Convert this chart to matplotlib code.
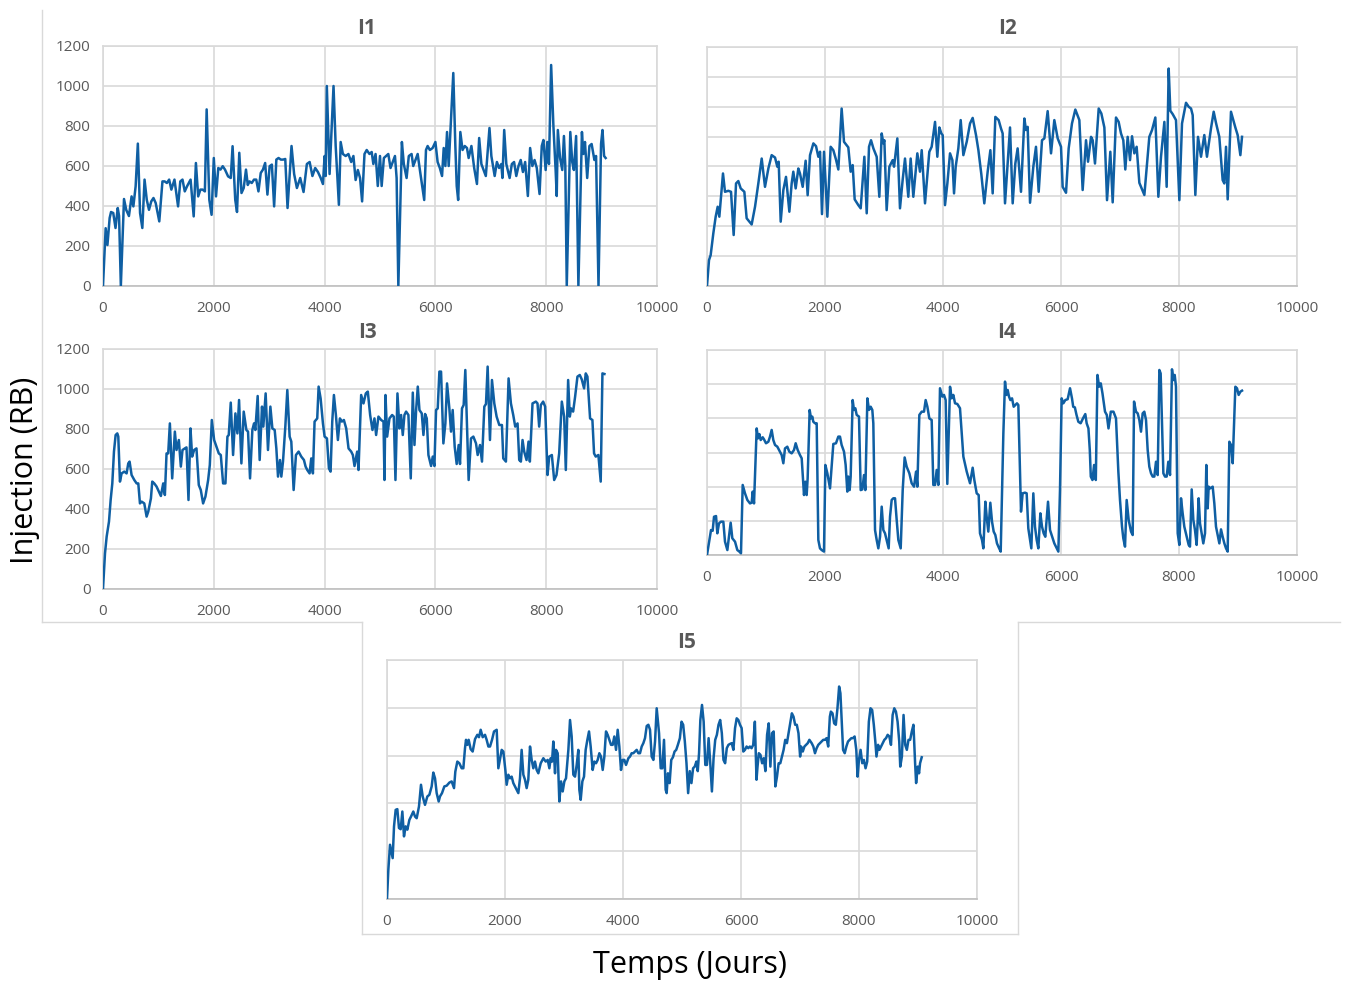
import numpy as np
import matplotlib
matplotlib.use("Agg")
import matplotlib.pyplot as plt
from matplotlib.lines import Line2D

plt.rcParams["font.family"] = ["Open Sans", "DejaVu Sans"]

# (day, injection RB)
I1 = [(0, 0), (48, 289), (80, 205), (120, 340), (145, 370), (185, 365), (226, 290), (266, 390), (290, 350), (322, 0),
      (379, 435), (420, 380), (468, 350), (516, 448), (548, 398), (589, 498), (629, 712), (669, 365), (710, 290),
      (750, 532), (790, 431), (830, 381), (871, 423), (911, 440), (951, 415), (1016, 323), (1073, 523), (1113, 523),
      (1153, 515), (1194, 532), (1234, 482), (1290, 532), (1355, 398), (1395, 523), (1435, 532), (1476, 473),
      (1516, 498), (1581, 532), (1637, 348), (1677, 615), (1718, 448), (1758, 482), (1798, 482), (1839, 473),
      (1871, 883), (1919, 431), (1960, 356), (2000, 640), (2040, 448), (2081, 590), (2121, 582), (2161, 599),
      (2202, 582), (2258, 548), (2306, 540), (2339, 699), (2387, 431), (2419, 370), (2460, 666), (2500, 465),
      (2540, 490), (2581, 582), (2613, 505), (2645, 523), (2685, 515), (2726, 532), (2766, 532), (2806, 473),
      (2847, 565), (2887, 582), (2927, 615), (2968, 457), (3008, 599), (3048, 607), (3089, 398), (3129, 632),
      (3169, 640), (3210, 632), (3250, 632), (3290, 635), (3331, 390), (3403, 700), (3450, 560), (3500, 490),
      (3560, 540), (3620, 470), (3680, 610), (3730, 620), (3780, 550), (3830, 590), (3880, 570), (3930, 540),
      (3970, 510), (4000, 650), (4020, 550), (4040, 1000), (4090, 560), (4161, 1000), (4200, 700), (4258, 406),
      (4290, 720), (4330, 660), (4380, 650), (4430, 660), (4480, 620), (4520, 650), (4560, 530), (4600, 580),
      (4640, 540), (4677, 423), (4720, 660), (4760, 680), (4810, 660), (4850, 670), (4880, 610), (4920, 660),
      (4960, 500), (5000, 650), (5030, 500), (5070, 640), (5110, 650), (5150, 660), (5190, 590), (5230, 620),
      (5270, 650), (5300, 540), (5331, 0), (5395, 720), (5430, 610), (5480, 540), (5520, 650), (5570, 660),
      (5600, 600), (5640, 630), (5680, 660), (5720, 580), (5798, 430), (5830, 680), (5860, 700), (5900, 680),
      (5950, 690), (6000, 720), (6040, 620), (6080, 590), (6120, 550), (6150, 690), (6180, 600), (6210, 770),
      (6240, 600), (6323, 1065), (6360, 700), (6385, 500), (6411, 430), (6450, 770), (6490, 680), (6530, 700),
      (6570, 690), (6600, 640), (6650, 700), (6700, 590), (6750, 510), (6790, 740), (6830, 610), (6870, 580),
      (6910, 550), (6950, 700), (6976, 790), (7010, 650), (7070, 550), (7110, 620), (7150, 590), (7190, 610),
      (7210, 540), (7242, 780), (7280, 610), (7340, 540), (7380, 610), (7420, 620), (7460, 550), (7500, 600),
      (7540, 630), (7580, 570), (7620, 620), (7669, 450), (7710, 690), (7750, 600), (7790, 630), (7830, 590),
      (7880, 460), (7920, 700), (7950, 730), (7990, 580), (8020, 720), (8050, 610), (8089, 1105), (8130, 800),
      (8170, 580), (8190, 450), (8210, 780), (8250, 640), (8290, 580), (8320, 750), (8345, 600), (8371, 0),
      (8435, 770), (8470, 620), (8500, 580), (8540, 750), (8581, 0), (8645, 770), (8670, 660), (8700, 720),
      (8740, 540), (8780, 700), (8820, 710), (8870, 630), (8900, 650), (8944, 0), (8990, 710), (9016, 780),
      (9045, 650), (9073, 640)]

I2 = [(0, 0), (34, 130), (62, 155), (107, 264), (147, 348), (181, 398), (209, 348), (237, 448), (271, 565), (305, 473),
      (362, 478), (407, 473), (452, 256), (492, 515), (531, 527), (571, 490), (633, 473), (672, 340), (718, 323),
      (757, 309), (814, 398), (870, 515), (927, 640), (983, 498), (1040, 590), (1096, 657), (1153, 645), (1192, 599),
      (1215, 624), (1249, 323), (1294, 482), (1339, 548), (1396, 373), (1435, 515), (1463, 574), (1503, 490),
      (1548, 590), (1576, 565), (1622, 498), (1672, 629), (1706, 456), (1746, 657), (1803, 716), (1848, 702),
      (1887, 649), (1916, 674), (1949, 361), (1983, 674), (2040, 348), (2096, 699), (2141, 682), (2186, 635),
      (2226, 585), (2282, 891), (2322, 724), (2395, 696), (2435, 574), (2469, 607), (2503, 435), (2565, 406),
      (2605, 390), (2667, 649), (2707, 365), (2746, 699), (2780, 732), (2820, 691), (2876, 649), (2921, 448),
      (2961, 766), (2989, 716), (3006, 732), (3045, 381), (3091, 599), (3147, 632), (3170, 599), (3226, 741),
      (3271, 390), (3316, 532), (3356, 640), (3412, 448), (3452, 640), (3497, 448), (3565, 666), (3610, 574),
      (3639, 682), (3695, 415), (3768, 674), (3808, 699), (3865, 824), (3904, 649), (3938, 796), (3972, 766),
      (3995, 757), (4034, 406), (4074, 515), (4119, 666), (4159, 632), (4187, 465), (4215, 599), (4260, 691),
      (4300, 833), (4345, 657), (4402, 724), (4458, 816), (4503, 844), (4560, 757), (4600, 682), (4650, 560),
      (4700, 415), (4757, 574), (4803, 682), (4842, 465), (4887, 849), (4943, 833), (4983, 791), (5011, 766),
      (5051, 415), (5096, 615), (5136, 796), (5181, 415), (5226, 615), (5265, 691), (5322, 473), (5379, 841),
      (5407, 783), (5435, 799), (5475, 418), (5531, 599), (5576, 699), (5622, 473), (5678, 732), (5718, 741),
      (5774, 878), (5831, 666), (5887, 833), (5944, 741), (6000, 699), (6028, 498), (6085, 468), (6130, 691),
      (6186, 816), (6243, 886), (6311, 833), (6367, 482), (6424, 732), (6458, 624), (6509, 749), (6537, 732),
      (6576, 615), (6639, 891), (6684, 866), (6735, 796), (6780, 431), (6836, 674), (6876, 420), (6932, 846),
      (6977, 824), (7017, 766), (7056, 732), (7090, 585), (7130, 749), (7170, 632), (7204, 752), (7243, 666),
      (7282, 699), (7328, 518), (7413, 457), (7497, 749), (7543, 783), (7599, 846), (7650, 448), (7695, 649),
      (7752, 824), (7791, 498), (7825, 1092), (7853, 880), (7893, 863), (7949, 833), (8006, 431), (8051, 816),
      (8119, 920), (8164, 900), (8204, 891), (8232, 858), (8277, 457), (8322, 749), (8373, 649), (8429, 758),
      (8474, 649), (8542, 791), (8588, 875), (8627, 819), (8683, 749), (8740, 532), (8768, 515), (8797, 699),
      (8825, 435), (8881, 875), (8955, 796), (8994, 758), (9040, 657), (9068, 749)]

I3 = [(0, 0), (36, 178), (66, 262), (108, 337), (138, 445), (168, 528), (198, 687), (228, 770), (258, 778), (276, 762),
      (306, 537), (336, 578), (384, 587), (426, 578), (456, 628), (480, 637), (516, 570), (565, 545), (607, 528),
      (637, 528), (667, 428), (697, 437), (745, 428), (787, 362), (817, 387), (865, 453), (889, 537), (925, 528),
      (967, 512), (1009, 487), (1045, 465), (1087, 528), (1117, 470), (1147, 678), (1177, 678), (1207, 828),
      (1249, 553), (1297, 787), (1327, 695), (1369, 745), (1405, 612), (1435, 695), (1477, 703), (1507, 708),
      (1543, 445), (1579, 803), (1609, 662), (1645, 695), (1687, 703), (1729, 520), (1765, 495), (1807, 428),
      (1849, 462), (1898, 545), (1928, 620), (1964, 845), (2006, 745), (2048, 712), (2090, 678), (2126, 670),
      (2168, 528), (2210, 528), (2246, 762), (2270, 770), (2306, 932), (2348, 670), (2390, 878), (2426, 778),
      (2456, 945), (2498, 628), (2540, 887), (2588, 795), (2618, 787), (2654, 553), (2696, 795), (2726, 828),
      (2750, 795), (2792, 965), (2828, 645), (2870, 912), (2894, 812), (2936, 978), (2978, 695), (3021, 912),
      (3057, 803), (3099, 795), (3129, 703), (3159, 562), (3195, 645), (3219, 562), (3249, 637), (3291, 812),
      (3327, 995), (3369, 762), (3399, 737), (3441, 495), (3483, 670), (3531, 687), (3579, 662), (3627, 645),
      (3657, 612), (3687, 595), (3729, 578), (3759, 653), (3789, 578), (3819, 837), (3867, 853), (3892, 1012),
      (3928, 953), (3970, 828), (4000, 762), (4042, 753), (4078, 603), (4108, 587), (4138, 837), (4168, 970),
      (4204, 870), (4240, 745), (4276, 853), (4312, 837), (4348, 845), (4390, 803), (4432, 703), (4480, 687),
      (4510, 670), (4540, 615), (4588, 687), (4612, 595), (4660, 970), (4702, 928), (4744, 978), (4780, 987),
      (4822, 870), (4864, 795), (4900, 853), (4930, 770), (4972, 862), (5021, 845), (5063, 837), (5081, 545),
      (5099, 970), (5129, 762), (5171, 853), (5219, 870), (5249, 862), (5279, 545), (5315, 978), (5351, 803),
      (5381, 870), (5411, 770), (5441, 870), (5471, 887), (5513, 870), (5555, 553), (5592, 982), (5622, 720),
      (5652, 895), (5682, 1012), (5712, 895), (5754, 878), (5784, 770), (5814, 875), (5844, 853), (5874, 670),
      (5922, 615), (5952, 662), (5982, 615), (6012, 895), (6042, 903), (6072, 1087), (6102, 1087), (6144, 728),
      (6180, 828), (6210, 1028), (6252, 903), (6282, 787), (6312, 895), (6348, 712), (6384, 625), (6420, 720),
      (6444, 625), (6480, 903), (6510, 920), (6540, 1095), (6570, 820), (6600, 545), (6643, 753), (6685, 762),
      (6733, 728), (6763, 670), (6805, 720), (6841, 637), (6883, 912), (6913, 925), (6943, 1112), (6985, 745),
      (7021, 1045), (7063, 928), (7105, 862), (7153, 820), (7201, 820), (7225, 653), (7273, 637), (7321, 1053),
      (7363, 928), (7405, 870), (7441, 812), (7483, 828), (7513, 645), (7543, 637), (7573, 745), (7603, 687),
      (7645, 645), (7681, 737), (7705, 637), (7753, 928), (7813, 937), (7843, 928), (7873, 812), (7903, 920),
      (7945, 937), (7981, 912), (8024, 570), (8054, 662), (8102, 670), (8144, 545), (8186, 570), (8234, 678),
      (8282, 937), (8324, 862), (8354, 595), (8396, 1045), (8426, 862), (8450, 903), (8486, 887), (8522, 962),
      (8564, 1062), (8606, 1070), (8642, 1048), (8684, 1003), (8714, 1078), (8744, 1062), (8792, 853), (8834, 845),
      (8864, 678), (8894, 662), (8942, 670), (8984, 537), (9015, 1078), (9051, 1075)]

I4 = [(0, 0), (40, 88), (68, 146), (96, 142), (119, 224), (153, 228), (175, 127), (203, 185), (237, 195), (277, 195),
      (305, 78), (345, 29), (373, 107), (401, 189), (429, 98), (475, 78), (514, 29), (548, 20), (576, 10), (605, 410),
      (644, 361), (684, 322), (729, 302), (757, 306), (774, 371), (797, 302), (819, 517), (842, 741), (865, 683),
      (887, 708), (910, 673), (944, 689), (966, 677), (1000, 654), (1040, 663), (1068, 693), (1096, 732),
      (1124, 673), (1153, 644), (1192, 634), (1237, 605), (1266, 585), (1294, 537), (1322, 624), (1361, 634),
      (1395, 605), (1435, 595), (1475, 615), (1503, 654), (1537, 615), (1576, 585), (1605, 566), (1644, 351),
      (1667, 429), (1689, 351), (1706, 449), (1740, 849), (1763, 800), (1785, 810), (1802, 780), (1831, 771),
      (1859, 771), (1887, 88), (1915, 39), (1944, 29), (1983, 20), (2006, 527), (2040, 478), (2085, 390),
      (2113, 517), (2141, 650), (2186, 654), (2226, 693), (2254, 693), (2282, 644), (2322, 605), (2350, 527),
      (2378, 371), (2395, 459), (2418, 380), (2435, 459), (2469, 907), (2491, 849), (2514, 859), (2537, 820),
      (2576, 810), (2605, 380), (2633, 384), (2661, 468), (2684, 380), (2718, 917), (2746, 849), (2774, 868),
      (2802, 849), (2819, 771), (2848, 146), (2876, 88), (2904, 39), (2933, 107), (2961, 283), (2989, 146),
      (3017, 127), (3045, 88), (3079, 39), (3102, 224), (3130, 322), (3158, 332), (3187, 332), (3215, 205),
      (3243, 88), (3283, 39), (3317, 380), (3350, 571), (3384, 517), (3430, 478), (3469, 420), (3509, 400),
      (3543, 488), (3565, 400), (3599, 820), (3639, 839), (3678, 839), (3706, 907), (3735, 868), (3768, 800),
      (3808, 790), (3836, 410), (3865, 410), (3893, 498), (3921, 410), (3949, 976), (3989, 927), (4017, 937),
      (4045, 907), (4073, 416), (4119, 985), (4147, 917), (4175, 937), (4204, 888), (4243, 884), (4288, 859),
      (4345, 576), (4402, 488), (4458, 420), (4503, 511), (4531, 439), (4571, 361), (4605, 351), (4627, 127),
      (4661, 88), (4684, 39), (4718, 312), (4740, 224), (4768, 137), (4802, 306), (4831, 195), (4859, 137),
      (4887, 117), (4915, 68), (4944, 45), (4978, 20), (5000, 361), (5023, 712), (5051, 1015), (5074, 937),
      (5096, 966), (5119, 927), (5142, 907), (5170, 917), (5198, 868), (5226, 878), (5254, 888), (5277, 878),
      (5305, 478), (5322, 254), (5350, 361), (5390, 365), (5418, 361), (5446, 156), (5475, 88), (5497, 39),
      (5531, 361), (5559, 166), (5588, 88), (5616, 39), (5650, 244), (5678, 166), (5706, 127), (5734, 107),
      (5780, 312), (5814, 146), (5859, 98), (5887, 68), (5927, 39), (5955, 20), (5983, 380), (6011, 917),
      (6040, 888), (6073, 907), (6113, 912), (6153, 976), (6186, 917), (6207, 868), (6235, 864), (6263, 820),
      (6294, 780), (6333, 771), (6373, 800), (6412, 825), (6435, 771), (6465, 741), (6488, 615), (6505, 459),
      (6533, 439), (6561, 527), (6590, 439), (6618, 1054), (6646, 985), (6674, 1005), (6703, 946), (6746, 839),
      (6776, 820), (6805, 741), (6844, 839), (6889, 839), (6932, 800), (6972, 488), (7000, 322), (7034, 166),
      (7056, 98), (7085, 49), (7113, 322), (7147, 205), (7187, 137), (7215, 117), (7238, 898), (7271, 839),
      (7300, 829), (7328, 790), (7356, 722), (7384, 829), (7412, 839), (7441, 790), (7469, 615), (7497, 517),
      (7526, 478), (7554, 459), (7582, 459), (7610, 546), (7639, 468), (7667, 1083), (7689, 1063), (7712, 780),
      (7735, 478), (7763, 459), (7791, 459), (7819, 546), (7848, 468), (7881, 1087), (7904, 1024), (7927, 1054),
      (7949, 985), (7978, 127), (8006, 59), (8034, 332), (8062, 244), (8090, 166), (8130, 107), (8164, 59),
      (8186, 49), (8215, 384), (8243, 205), (8271, 146), (8299, 59), (8333, 332), (8356, 185), (8384, 127),
      (8412, 68), (8441, 127), (8463, 527), (8486, 273), (8503, 400), (8531, 390), (8571, 400), (8599, 302),
      (8627, 166), (8656, 117), (8684, 68), (8712, 150), (8740, 107), (8769, 68), (8797, 39), (8825, 20),
      (8853, 663), (8882, 644), (8910, 537), (8955, 985), (8983, 976), (9011, 937), (9040, 956), (9068, 962)]

I5 = [(0, 0), (23, 123), (51, 227), (79, 192), (96, 171), (119, 304), (147, 373), (175, 376), (203, 297), (232, 292),
      (260, 366), (288, 262), (316, 304), (345, 290), (379, 331), (407, 345), (446, 366), (475, 345), (503, 338),
      (542, 387), (576, 478), (605, 429), (644, 394), (684, 429), (718, 436), (757, 471), (785, 529), (814, 505),
      (842, 443), (876, 408), (898, 429), (932, 443), (972, 471), (1011, 474), (1057, 487), (1096, 492),
      (1136, 464), (1158, 533), (1192, 575), (1226, 568), (1266, 547), (1294, 547), (1322, 631), (1339, 666),
      (1362, 645), (1384, 666), (1418, 627), (1452, 617), (1492, 669), (1531, 687), (1559, 677), (1588, 708),
      (1622, 677), (1661, 687), (1689, 666), (1718, 638), (1746, 638), (1780, 666), (1814, 701), (1859, 708),
      (1887, 547), (1915, 585), (1944, 624), (1972, 617), (2006, 540), (2028, 478), (2057, 520), (2085, 505),
      (2113, 512), (2141, 485), (2169, 471), (2198, 457), (2226, 443), (2254, 505), (2282, 624), (2311, 520),
      (2339, 499), (2367, 464), (2395, 499), (2424, 638), (2452, 582), (2480, 547), (2508, 575), (2537, 540),
      (2565, 526), (2605, 568), (2650, 589), (2690, 575), (2724, 582), (2752, 547), (2774, 589), (2797, 575),
      (2819, 659), (2848, 526), (2864, 624), (2893, 610), (2921, 408), (2950, 492), (2978, 450), (3006, 492),
      (3034, 505), (3074, 624), (3102, 749), (3130, 680), (3158, 520), (3187, 512), (3215, 561), (3243, 624),
      (3260, 457), (3283, 415), (3311, 492), (3339, 512), (3367, 624), (3396, 666), (3424, 701), (3452, 638),
      (3486, 540), (3514, 575), (3543, 568), (3571, 582), (3599, 610), (3627, 596), (3656, 540), (3684, 596),
      (3712, 701), (3740, 687), (3768, 666), (3797, 645), (3825, 645), (3853, 680), (3882, 624), (3910, 708),
      (3938, 638), (3966, 540), (3995, 582), (4023, 582), (4051, 561), (4091, 589), (4119, 596), (4147, 610),
      (4175, 610), (4204, 617), (4232, 624), (4260, 610), (4288, 610), (4317, 638), (4345, 652), (4373, 673),
      (4402, 724), (4430, 729), (4458, 708), (4486, 596), (4515, 582), (4543, 659), (4571, 798), (4611, 694),
      (4639, 547), (4667, 547), (4695, 666), (4723, 457), (4740, 443), (4762, 526), (4790, 485), (4818, 582),
      (4846, 593), (4874, 617), (4902, 624), (4930, 645), (4964, 673), (4992, 742), (5020, 729), (5048, 659),
      (5076, 568), (5104, 443), (5132, 535), (5160, 485), (5188, 547), (5216, 554), (5244, 575), (5267, 535),
      (5289, 610), (5311, 749), (5339, 812), (5367, 742), (5395, 561), (5423, 561), (5451, 673), (5479, 568),
      (5507, 450), (5535, 589), (5563, 666), (5591, 687), (5619, 729), (5647, 749), (5675, 694), (5703, 582),
      (5731, 568), (5759, 631), (5787, 645), (5815, 649), (5843, 652), (5871, 624), (5899, 715), (5927, 756),
      (5955, 749), (5983, 729), (6011, 715), (6039, 617), (6067, 624), (6095, 638), (6123, 631), (6151, 638),
      (6179, 631), (6207, 645), (6235, 742), (6263, 499), (6280, 554), (6302, 610), (6330, 603), (6358, 568),
      (6386, 589), (6414, 535), (6442, 687), (6470, 735), (6498, 554), (6526, 694), (6554, 701), (6582, 471),
      (6610, 512), (6638, 568), (6666, 568), (6694, 596), (6722, 624), (6750, 666), (6778, 652), (6806, 694),
      (6834, 735), (6862, 777), (6890, 763), (6918, 729), (6946, 729), (6974, 694), (7002, 596), (7019, 638),
      (7047, 617), (7075, 638), (7103, 645), (7131, 652), (7159, 666), (7198, 652), (7226, 638), (7254, 610),
      (7282, 631), (7310, 645), (7338, 652), (7366, 659), (7394, 666), (7422, 666), (7450, 673), (7478, 638),
      (7506, 763), (7523, 784), (7551, 777), (7579, 735), (7607, 729), (7635, 798), (7663, 889), (7685, 861),
      (7708, 735), (7730, 624), (7758, 610), (7786, 638), (7814, 659), (7842, 666), (7870, 673), (7898, 673),
      (7926, 680), (7954, 624), (7976, 512), (7999, 582), (8027, 624), (8055, 568), (8083, 582), (8111, 547),
      (8139, 575), (8167, 742), (8195, 798), (8223, 791), (8251, 729), (8279, 652), (8296, 596), (8324, 645),
      (8346, 624), (8374, 638), (8402, 652), (8430, 666), (8458, 673), (8486, 687), (8514, 680), (8542, 645),
      (8570, 770), (8598, 798), (8626, 784), (8654, 742), (8682, 659), (8699, 554), (8727, 596), (8755, 770),
      (8783, 645), (8811, 624), (8839, 666), (8867, 666), (8895, 701), (8923, 729), (8951, 568), (8968, 485),
      (8996, 554), (9018, 526), (9035, 568), (9063, 593)]

x_ticks = [0, 2000, 4000, 6000, 8000, 10000]
y_ticks_1200 = [0, 200, 400, 600, 800, 1000, 1200]
y_ticks_i2 = [0, 150, 300, 450, 600, 750, 900, 1050, 1200]
y_ticks_i5 = [0, 200, 400, 600, 800, 1000]

W, H = 1346, 985
BLUE = "#0f5fa3"
GRID = "#d9d9d9"
GREY_TXT = "#595959"


def px_axes(x0, y0, x1, y1):
    return [x0 / W, 1 - y1 / H, (x1 - x0) / W, (y1 - y0) / H]


fig = plt.figure(figsize=(W / 100, H / 100), dpi=100)

# name, data, axes box in px, y ticks, y labels shown, title position in px
panels = [
    ("I1", I1, px_axes(103, 46, 657, 286), y_ticks_1200, True, (367, 28)),
    ("I2", I2, px_axes(707, 47, 1297, 286), y_ticks_i2, False, (1007, 28)),
    ("I3", I3, px_axes(103, 349, 657, 589), y_ticks_1200, True, (367, 332)),
    ("I4", I4, px_axes(707, 350, 1297, 555), y_ticks_1200, False, (1007, 332)),
    ("I5", I5, px_axes(387, 660, 977, 899), y_ticks_i5, False, (687, 643)),
]

for name, data, rect, yt, show_y, (tx, ty) in panels:
    ax = fig.add_axes(rect)
    days, rb = np.array(data).T
    ax.plot(days, rb, color=BLUE, lw=1.8, zorder=3)
    ax.set_xlim(0, 10000)
    ax.set_ylim(yt[0], yt[-1])
    ax.set_xticks(x_ticks)
    ax.set_yticks(yt)
    ax.grid(True, color=GRID, lw=1.2)
    ax.set_axisbelow(True)
    for s in ax.spines.values():
        s.set_color(GRID)
        s.set_linewidth(1.2)
    ax.spines["bottom"].set_color("#bfbfbf")
    ax.tick_params(length=0, colors=GREY_TXT, labelsize=11)
    ax.tick_params(axis="x", pad=11)
    ax.tick_params(axis="y", pad=9, labelleft=show_y)
    fig.text(tx / W, 1 - ty / H, name, fontsize=15, fontweight="bold", color=GREY_TXT,
             ha="center", va="center")

# frames of the two pasted chart pictures
frame = [((42, 10), (42, 622)), ((42, 622), (362, 622)), ((1018, 622), (1340, 622)),
         ((362, 622), (362, 934)), ((362, 934), (1018, 934)), ((1018, 622), (1018, 934))]
for (xa, ya), (xb, yb) in frame:
    fig.add_artist(Line2D([xa / W, xb / W], [1 - ya / H, 1 - yb / H], color=GRID, lw=1))

fig.text(25 / W, 1 - 470 / H, "Injection (RB)", rotation=90, fontsize=22, ha="center", va="center")
fig.text(690 / W, 1 - 965 / H, "Temps (Jours)", fontsize=22, ha="center", va="center")

fig.savefig("out.png", dpi=100)
